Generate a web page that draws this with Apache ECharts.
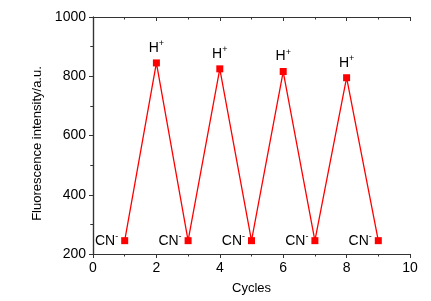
<!DOCTYPE html>
<html><head><meta charset="utf-8">
<script src="https://cdn.jsdelivr.net/npm/echarts@6/dist/echarts.min.js"></script>
<style>html,body{margin:0;padding:0;background:#fff}#c{width:431px;height:301px}</style>
</head><body><div id="c"></div>
<script>
const cycles = [1, 2, 3, 4, 5, 6, 7, 8, 9];
const intensity = [245, 845, 245, 825, 245, 816, 245, 795, 245];
const pointLabels = ['CN-', 'H+', 'CN-', 'H+', 'CN-', 'H+', 'CN-', 'H+', 'CN-'];
const xTicks = [0, 2, 4, 6, 8, 10];
const yTicks = [200, 400, 600, 800, 1000];

const font = 'Liberation Sans, Arial, sans-serif';
const axisColor = '#333';
const data = cycles.map((c, i) => {
  const isH = pointLabels[i] === 'H+';
  return {
    value: [c, intensity[i]],
    label: {
      show: true,
      position: isH ? 'top' : 'left',
      distance: 3,
      formatter: isH ? 'H{sup|+}' : 'CN{sup|-}',
      color: '#000',
      fontFamily: font,
      fontSize: 14,
      rich: {
        sup: { fontSize: 9, fontFamily: font, color: '#000', verticalAlign: 'top', padding: [0, 0, 8, 0] }
      }
    }
  };
});

function axis(inside) {
  return {
    axisLine: { show: true, lineStyle: { color: axisColor, width: 1.2 } },
    axisTick: { show: true, inside: inside, length: 4, lineStyle: { color: axisColor } },
    minorTick: { show: true, splitNumber: 2, length: 2.5, lineStyle: { color: axisColor } },
    splitLine: { show: false }
  };
}

const chart = echarts.init(document.getElementById('c'), null, { renderer: 'canvas' });
chart.setOption({
  animation: false,
  backgroundColor: '#fff',
  grid: { left: 93, right: 21, top: 17, bottom: 47 },
  xAxis: [
    Object.assign(axis(false), {
      type: 'value', min: xTicks[0], max: xTicks[xTicks.length - 1], interval: 2,
      name: 'Cycles', nameLocation: 'middle', nameGap: 28,
      nameTextStyle: { fontFamily: font, fontSize: 13, color: '#000' },
      axisLabel: { fontFamily: font, fontSize: 14, color: '#000', margin: 7, formatter: v => String(v) }
    }),
    Object.assign(axis(true), {
      type: 'value', position: 'top', min: xTicks[0], max: xTicks[xTicks.length - 1], interval: 2,
      axisLabel: { show: false }
    })
  ],
  yAxis: [
    Object.assign(axis(false), {
      type: 'value', min: yTicks[0], max: yTicks[yTicks.length - 1], interval: 200,
      name: 'Fluorescence intensity/a.u.', nameLocation: 'middle', nameGap: 49,
      nameTextStyle: { fontFamily: font, fontSize: 13, color: '#000', padding: [0, 16, 0, 0] },
      axisLabel: { fontFamily: font, fontSize: 14, color: '#000', margin: 7, formatter: v => String(v) }
    }),
    Object.assign(axis(true), {
      type: 'value', position: 'right', min: yTicks[0], max: yTicks[yTicks.length - 1], interval: 200,
      axisLabel: { show: false }
    })
  ],
  series: [{
    type: 'line',
    data: data,
    symbol: 'rect',
    symbolSize: 7,
    lineStyle: { color: '#ff0000', width: 1.3 },
    itemStyle: { color: '#ff0000' }
  }]
});
</script>
</body></html>
